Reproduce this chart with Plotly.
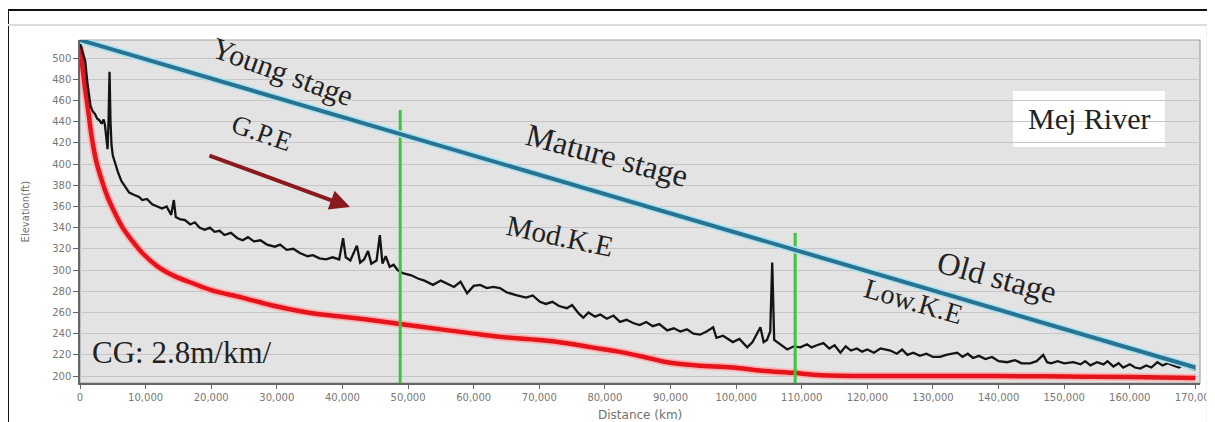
import plotly.graph_objects as go

# ---------------- data ----------------
profile_dist = [0, 300, 600, 800, 1100, 1400, 1600, 1900, 2300, 2600, 3000, 3300, 3600, 3800, 4000, 4200,
                4350, 4500, 4650, 4800, 5000, 5300, 5800, 6300, 6900, 7500, 8200, 9000, 9500, 10200, 11000,
                11800, 12500, 13200, 13900, 14300, 14600, 15200, 16000, 16800, 17500, 18200, 19000, 19800,
                20500, 21300, 22000, 23000, 24000, 24800, 25600, 26500, 27500, 28500, 29700, 30500, 31500,
                32500, 33500, 34700, 35500, 36500, 37500, 38500, 39500, 40100, 40500, 41200, 42200, 42700,
                43300, 43900, 44400, 45200, 45700, 46100, 46600, 47200, 47800, 48400, 49200, 50500, 51500,
                52500, 53800, 55000, 56000, 57000, 58000, 59000, 60000, 61000, 62000, 63000, 64000, 65000,
                66600, 68000, 69000, 70100, 71000, 72000, 73000, 74200, 75000, 76000, 76700, 77500, 78500,
                79300, 80300, 81300, 82300, 83300, 84300, 85300, 86300, 87300, 88300, 89500, 90500, 91500,
                92500, 93500, 94500, 95500, 96500, 97000, 98000, 99500, 100500, 101700, 102500, 103200,
                103700, 104200, 104700, 105200, 105500, 105800, 106500, 107800, 108800, 109800, 110800,
                111500, 112300, 113300, 114200, 115000, 115900, 116700, 117500, 118400, 119200, 120000,
                121000, 122000, 123500, 124500, 125300, 126100, 127000, 128000, 129000, 130000, 131100,
                132000, 133700, 134500, 135300, 136100, 137000, 138000, 139000, 140000, 141300, 142500,
                143500, 144800, 145800, 146800, 147400, 148000, 149000, 150000, 151400, 152500, 153200,
                154000, 155000, 156000, 156600, 157500, 158300, 159000, 160000, 160800, 161600, 162500,
                163300, 164200, 165000, 165800, 166600, 167500, 168300, 169200, 170000]
profile_elev = [514, 508, 500, 497, 478, 462, 455, 450, 447, 443, 441, 438, 442, 437, 425, 414,
                440, 487, 440, 418, 408, 401, 392, 384, 378, 373, 371, 369, 366, 367, 362,
                360, 358, 360, 352, 366, 350, 348, 347, 343, 345, 340, 338, 340,
                336, 337, 333, 335, 330, 328, 331, 327, 328, 324, 322, 324, 319,
                320, 316, 313, 314, 311, 310, 312, 310, 330, 312, 309, 323, 307,
                310, 318, 306, 309, 333, 306, 313, 303, 305, 300, 297, 295, 292,
                290, 286, 290, 287, 284, 289, 278, 285, 286, 283, 284, 283, 279,
                276, 274, 276, 270, 268, 270, 266, 264, 267, 259, 255, 260, 256,
                258, 254, 257, 251, 253, 250, 248, 251, 247, 249, 243, 245, 242,
                244, 240, 239, 242, 246, 236, 238, 232, 235, 227, 232, 240,
                246, 232, 234, 242, 307, 234, 231, 225, 228, 227, 230,
                227, 229, 231, 226, 229, 222, 228, 224, 226, 223, 225,
                222, 226, 224, 221, 225, 220, 222, 219, 221, 218, 218,
                220, 222, 218, 221, 217, 219, 216, 218, 214, 213, 215,
                212, 212, 214, 220, 213, 212, 214, 212, 213, 211, 214,
                210, 213, 211, 214, 209, 212, 208, 211, 208, 207, 210,
                208, 213, 210, 212, 210, 208, 211, 207, 206]

curve_dist = [0, 400, 800, 1300, 1800, 2500, 3300, 4200, 5300, 6500, 7900, 9500, 11900, 14500, 17000,
              20000, 24700, 29000, 34700, 40000, 44000, 48800, 55000, 60000, 64000, 70000, 74200, 78000,
              82000, 86000, 89500, 94000, 99500, 104000, 108700, 112300, 120000, 130000, 140000, 150000,
              160000, 170000]
curve_elev = [511, 490, 470, 448, 425, 402, 385, 369, 354, 340, 328, 316, 303, 294, 288,
              281, 274, 267, 260, 256, 253, 249, 244, 240, 237, 234, 231, 227,
              223, 218, 213, 210, 208, 205, 203, 201, 200, 200, 200, 199.5,
              199, 198]

stage_line_dist = [0, 170000]
stage_line_elev = [517, 208]

boundary_dist = [48800, 109000]
boundary_top = [451, 335]
boundary_base = 193.4

arrow_tail = [19500, 408.5]
arrow_head = [41150, 359.4]

labels = ["Young stage", "G.P.E", "Mature stage", "Mod.K.E", "Old stage", "Low.K.E"]
label_x = [30900, 27700, 80300, 73150, 139750, 127100]
label_y = [487.7, 429, 408.5, 332, 293, 270]
label_angle = [20, 19, 15, 12, 15, 16]
label_size = [30, 27, 32, 29, 32, 28]

cg_text = "CG: 2.8m/km/"
river_name = "Mej River"

x_ticks = list(range(0, 170001, 10000))
y_ticks = list(range(200, 501, 20))

# ---------------- figure ----------------
fig = go.Figure()

# red curve with halo
fig.add_trace(go.Scatter(x=curve_dist, y=curve_elev, mode="lines",
                         line=dict(color="#ffb2b2", width=8, shape="spline"), hoverinfo="skip"))
fig.add_trace(go.Scatter(x=curve_dist, y=curve_elev, mode="lines",
                         line=dict(color="#e3141c", width=4.5, shape="spline"), hoverinfo="skip"))

# black profile
fig.add_trace(go.Scatter(x=profile_dist, y=profile_elev, mode="lines",
                         line=dict(color="#141414", width=2.3), hoverinfo="skip"))

# green boundaries
for d, t in zip(boundary_dist, boundary_top):
    fig.add_trace(go.Scatter(x=[d, d], y=[boundary_base, t], mode="lines",
                             line=dict(color="#3ec43e", width=3), hoverinfo="skip", cliponaxis=False))

# blue stage line with halo
fig.add_trace(go.Scatter(x=stage_line_dist, y=stage_line_elev, mode="lines",
                         line=dict(color="#a6e2f2", width=7), hoverinfo="skip", cliponaxis=False))
fig.add_trace(go.Scatter(x=stage_line_dist, y=stage_line_elev, mode="lines",
                         line=dict(color="#2a7390", width=4), hoverinfo="skip", cliponaxis=False))

annotations = []
for t, x, y, a, s in zip(labels, label_x, label_y, label_angle, label_size):
    annotations.append(dict(x=x, y=y, xref="x", yref="y", text=t, showarrow=False, textangle=a,
                            font=dict(family="Liberation Serif", size=s, color="#222222")))
annotations.append(dict(x=1500, y=222.6, xref="x", yref="y", text=cg_text, showarrow=False,
                        xanchor="left", font=dict(family="Liberation Serif", size=31, color="#222222")))
annotations.append(dict(x=153800, y=442.5, xref="x", yref="y", text=river_name, showarrow=False,
                        font=dict(family="Liberation Serif", size=30, color="#222222")))
annotations.append(dict(x=arrow_head[0], y=arrow_head[1], ax=arrow_tail[0], ay=arrow_tail[1],
                        xref="x", yref="y", axref="x", ayref="y", text="", showarrow=True,
                        arrowhead=2, arrowsize=1, arrowwidth=4, arrowcolor="#8a1a1e"))
annotations.append(dict(x=-0.055, y=0.5, xref="paper", yref="paper", text="Elevation(ft)",
                        showarrow=False, textangle=-90,
                        font=dict(family="DejaVu Sans", size=10, color="#707070")))
annotations.append(dict(x=0.5, y=-0.092, xref="paper", yref="paper", text="Distance (km)",
                        showarrow=False, yanchor="middle",
                        font=dict(family="DejaVu Sans", size=12, color="#707070")))

shapes = [
    # Mej River box
    dict(type="rect", xref="x", yref="y", x0=142200, x1=165350, y0=416, y1=469,
         fillcolor="white", line=dict(width=0), layer="below"),
    # plot frame (top/right)
    dict(type="rect", xref="paper", yref="paper", x0=0, x1=1, y0=0, y1=1,
         line=dict(color="#a3a3a3", width=1.2), layer="below"),
    # outer picture frame
    dict(type="line", xref="paper", yref="paper", x0=-0.0643, x1=-0.0643, y0=1.0875, y1=-0.12,
         line=dict(color="#111111", width=2)),
    dict(type="line", xref="paper", yref="paper", x0=-0.0643, x1=1.02, y0=1.0875, y1=1.0875,
         line=dict(color="#111111", width=2)),
    dict(type="line", xref="paper", yref="paper", x0=-0.0643, x1=1.02, y0=1.0437, y1=1.0437,
         line=dict(color="#dcdcdc", width=2)),
    dict(type="line", xref="paper", yref="paper", x0=1.0063, x1=1.0063, y0=1.0437, y1=-0.12,
         line=dict(color="#ececec", width=1.5)),
]

# page body has an 8px margin, so the figure is 8px smaller and margins shifted by 8px
fig.update_layout(
    width=1207, height=414,
    margin=dict(l=72, r=15, t=32, b=39, autoexpand=False),
    paper_bgcolor="white", plot_bgcolor="#e3e3e3",
    showlegend=False,
    annotations=annotations, shapes=shapes,
    xaxis=dict(range=[0, 170700], tickvals=x_ticks, tickformat=",d", showgrid=False, zeroline=False,
               automargin=False, ticklabeloverflow="allow",
               showline=True, linecolor="#666666", linewidth=1.5, ticks="outside", ticklen=4,
               tickcolor="#666666", tickfont=dict(family="DejaVu Sans", size=10, color="#777777")),
    yaxis=dict(range=[193.4, 517], tickvals=y_ticks, showgrid=True, gridcolor="#c6c6c6", gridwidth=1,
               automargin=False,
               zeroline=False, showline=True, linecolor="#666666", linewidth=1.5, ticks="outside",
               ticklen=5, tickcolor="#666666",
               tickfont=dict(family="DejaVu Sans", size=10, color="#777777")),
)

fig.write_html("out.html")
